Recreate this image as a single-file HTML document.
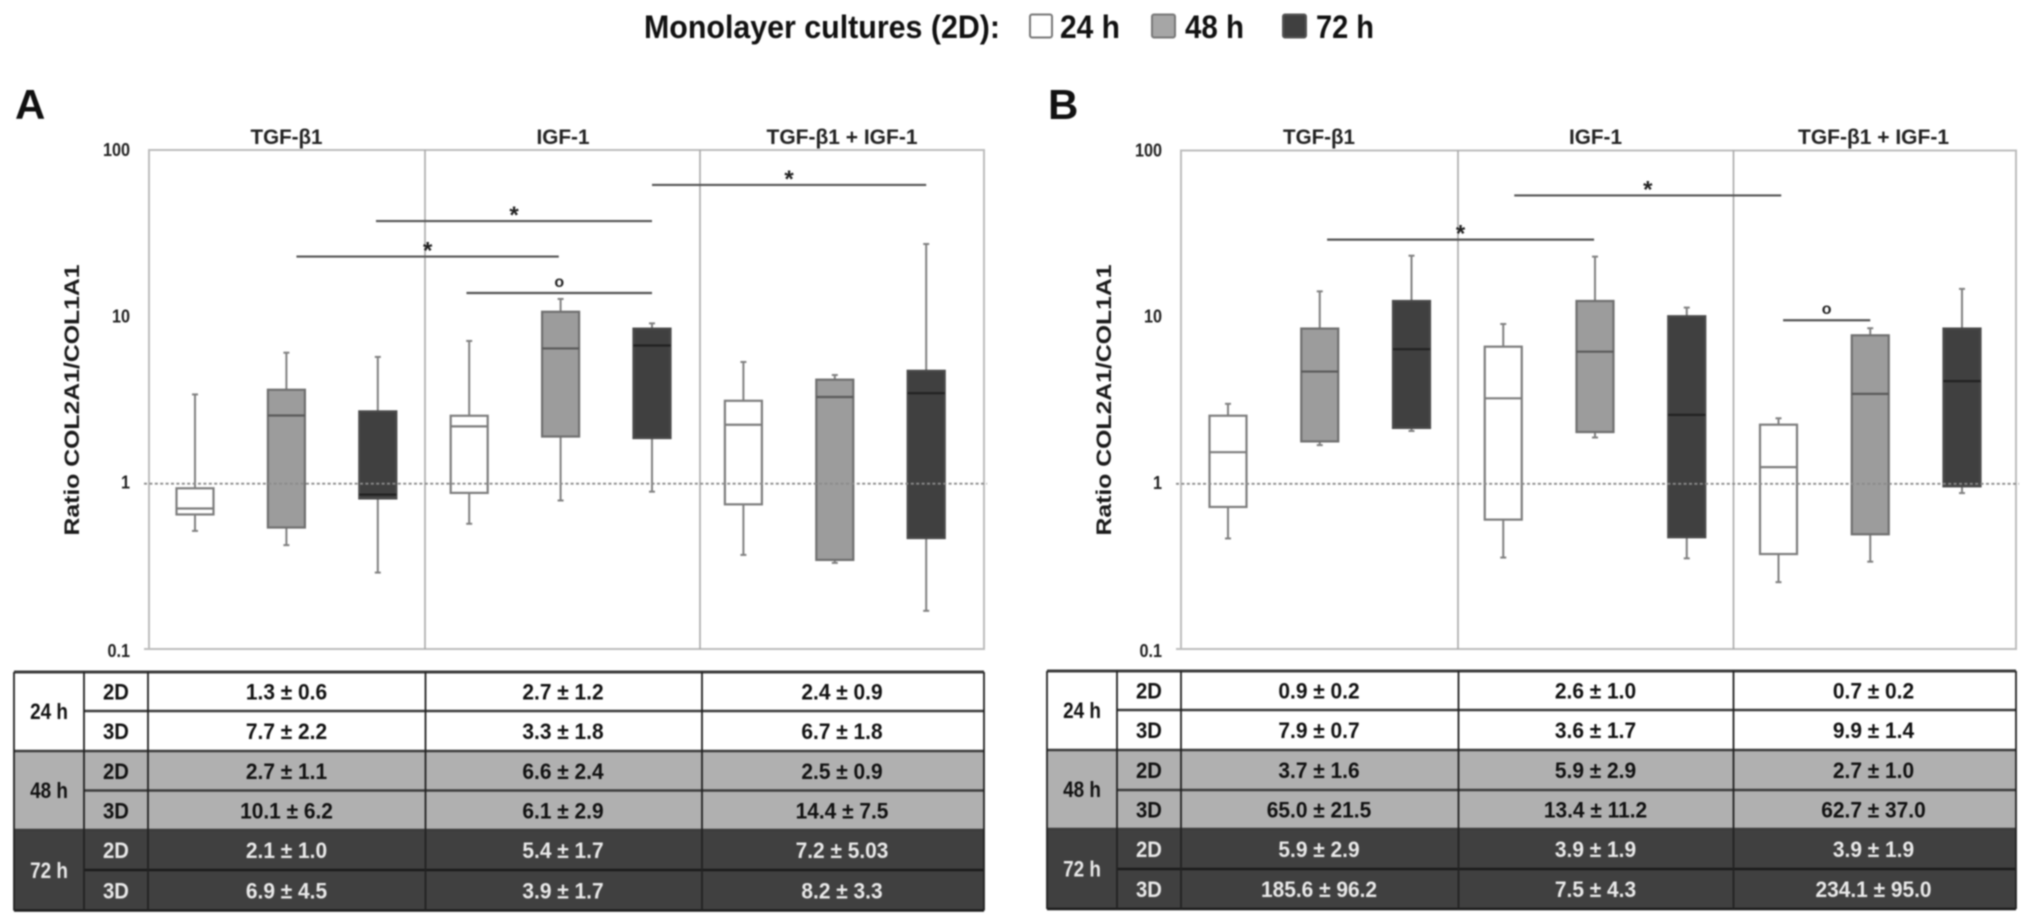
<!DOCTYPE html>
<html lang="en">
<head>
<meta charset="utf-8">
<title>COL2A1/COL1A1 ratio box plots</title>
<style>
html,body{margin:0;padding:0;background:#fff;width:2031px;height:924px;overflow:hidden}
svg{display:block;position:absolute;left:0;top:0;filter:blur(0.7px)}
text{font-family:"Liberation Sans",Arial,sans-serif}
</style>
</head>
<body>
<svg id="figure" xmlns="http://www.w3.org/2000/svg" width="2031" height="924" viewBox="0 0 2031 924">
  <g>
    <text x="644" y="38" font-size="32" font-weight="700" fill="#111" textLength="356" lengthAdjust="spacingAndGlyphs">Monolayer cultures (2D):</text>
    <rect x="1030" y="14.5" width="22" height="23" rx="2" fill="#fff" stroke="#777" stroke-width="2"/>
    <text x="1060" y="38" font-size="32" font-weight="700" fill="#111" textLength="60" lengthAdjust="spacingAndGlyphs">24 h</text>
    <rect x="1152" y="14.5" width="23" height="23" rx="2" fill="#a6a6a6" stroke="#777" stroke-width="2"/>
    <text x="1185" y="38" font-size="32" font-weight="700" fill="#111" textLength="59" lengthAdjust="spacingAndGlyphs">48 h</text>
    <rect x="1283" y="14.5" width="23" height="23" rx="2" fill="#404040" stroke="#555" stroke-width="2"/>
    <text x="1316" y="38" font-size="32" font-weight="700" fill="#111" textLength="58" lengthAdjust="spacingAndGlyphs">72 h</text>
  </g>
  <text x="15" y="119" font-size="42" font-weight="700" fill="#111">A</text>
  <text x="1048" y="119" font-size="42" font-weight="700" fill="#111">B</text>
</svg>
<script>
// ---------- shared categories ----------
const groups = ['TGF-β1', 'IGF-1', 'TGF-β1 + IGF-1'];
const timepoints = ['24 h', '48 h', '72 h'];
const cultures = ['2D', '3D'];
const yTickValues = [100, 10, 1, 0.1];
const yTickLabels = ['100', '10', '1', '0.1'];

// ---------- panel A box statistics (TGF 24/48/72, IGF 24/48/72, both 24/48/72) ----------
const aWhiskerHigh = [3.44, 6.13, 5.78, 7.21, 12.9, 9.2, 5.39, 4.5, 27.6];
const aQ3 = [0.938, 3.67, 2.72, 2.56, 10.8, 8.55, 3.15, 4.22, 4.77];
const aMedian = [0.709, 2.57, 0.859, 2.21, 6.5, 6.77, 2.26, 3.32, 3.5];
const aQ1 = [0.653, 0.545, 0.815, 0.88, 1.92, 1.88, 0.751, 0.348, 0.471];
const aWhiskerLow = [0.52, 0.427, 0.292, 0.574, 0.792, 0.895, 0.373, 0.334, 0.172];

// ---------- panel B box statistics ----------
const bWhiskerHigh = [3.03, 14.4, 23.6, 9.16, 23.3, 11.5, 2.48, 8.64, 14.9];
const bQ3 = [2.57, 8.6, 12.6, 6.69, 12.6, 10.2, 2.27, 7.83, 8.6];
const bMedian = [1.55, 4.74, 6.46, 3.27, 6.24, 2.6, 1.26, 3.48, 4.15];
const bQ1 = [0.726, 1.8, 2.17, 0.609, 2.05, 0.477, 0.378, 0.497, 0.966];
const bWhiskerLow = [0.469, 1.71, 2.08, 0.36, 1.9, 0.356, 0.256, 0.34, 0.88];

// ---------- significance brackets: from/to box index, level on the value axis, mark ----------
const aSigFrom = [5, 1.98, 1.11, 2.97];
const aSigTo = [8, 5, 3.98, 5];
const aSigLevel = [62.5, 37.9, 23.2, 14];
const aSigMark = ['*', '*', '*', 'o'];
const bSigFrom = [3.12, 1.08, 6.05];
const bSigTo = [6.03, 3.99, 7];
const bSigLevel = [54.4, 29.5, 9.65];
const bSigMark = ['*', '*', 'o'];

// ---------- table values (rows: 24h 2D, 24h 3D, 48h 2D, 48h 3D, 72h 2D, 72h 3D) ----------
const aTableTgf = ['1.3 ± 0.6', '7.7 ± 2.2', '2.7 ± 1.1', '10.1 ± 6.2', '2.1 ± 1.0', '6.9 ± 4.5'];
const aTableIgf = ['2.7 ± 1.2', '3.3 ± 1.8', '6.6 ± 2.4', '6.1 ± 2.9', '5.4 ± 1.7', '3.9 ± 1.7'];
const aTableBoth = ['2.4 ± 0.9', '6.7 ± 1.8', '2.5 ± 0.9', '14.4 ± 7.5', '7.2 ± 5.03', '8.2 ± 3.3'];
const bTableTgf = ['0.9 ± 0.2', '7.9 ± 0.7', '3.7 ± 1.6', '65.0 ± 21.5', '5.9 ± 2.9', '185.6 ± 96.2'];
const bTableIgf = ['2.6 ± 1.0', '3.6 ± 1.7', '5.9 ± 2.9', '13.4 ± 11.2', '3.9 ± 1.9', '7.5 ± 4.3'];
const bTableBoth = ['0.7 ± 0.2', '9.9 ± 1.4', '2.7 ± 1.0', '62.7 ± 37.0', '3.9 ± 1.9', '234.1 ± 95.0'];

const NS = 'http://www.w3.org/2000/svg';
const svg = document.getElementById('figure');
const boxFill = ['#ffffff', '#9c9c9c', '#404040'];
const boxStroke = ['#7d7d7d', '#6f6f6f', '#4a4a4a'];
const medianStroke = ['#7d7d7d', '#5a5a5a', '#222222'];
const rowFill = ['#ffffff', '#b0b0b0', '#404040'];
const rowText = ['#111111', '#111111', '#e9e9e9'];

function make(tag, parent, attrs, content) {
  const el = document.createElementNS(NS, tag);
  for (const k in attrs) el.setAttribute(k, attrs[k]);
  if (content !== undefined) el.textContent = content;
  parent.appendChild(el);
  return el;
}

// Narrow a label to imitate the condensed face of the original figure.
function squeeze(el, factor) {
  el.setAttribute('textLength', (el.getComputedTextLength() * factor).toFixed(2));
  el.setAttribute('lengthAdjust', 'spacingAndGlyphs');
}

function drawPanel(p) {
  const root = make('g', svg, {});
  
  

  const scaleTop = p.top + 1;
  const scaleBottom = p.bottom + 1;
  const yScale = v => scaleTop + (2 - Math.log10(v)) * (scaleBottom - scaleTop) / 3;
  const xScale = i => p.firstBox + i * p.step;
  const boxW = 37;

  // plot frame
  const frame = make('rect', root, {x: p.left, y: p.top, width: p.right - p.left, height: p.bottom - p.top, fill: '#fff', stroke: '#bdbdbd', 'stroke-width': 2});
  
  

  // group dividers and titles
  p.dividers.forEach((dx, i) => {
    const d = make('line', root, {x1: dx, x2: dx, y1: p.top, y2: p.bottom, stroke: '#a8a8a8', 'stroke-width': 1.6});
    
    
  });
  groups.forEach((g, i) => {
    const t = make('text', root, {x: p.titleX[i], y: 144, 'text-anchor': 'middle', 'font-size': 21, 'font-weight': 700, fill: '#222', textLength: p.titleW[i], lengthAdjust: 'spacingAndGlyphs'}, g);
    
    
  });

  // y axis
  yTickValues.forEach((v, i) => {
    const t = make('text', root, {x: p.left - 19, y: yScale(v) + (i === 3 ? 7 : 5), 'text-anchor': 'end', 'font-size': 18, 'font-weight': 700, fill: '#222'}, yTickLabels[i]);
    
    
    squeeze(t, 0.9);
  });
  const cy = 400;
  const title = make('text', root, {transform: 'translate(' + (p.left - 70) + ' ' + cy + ') rotate(-90)', 'text-anchor': 'middle', 'font-size': 21, 'font-weight': 700, fill: '#1a1a1a', textLength: 271, lengthAdjust: 'spacingAndGlyphs'}, 'Ratio COL2A1/COL1A1');
  
  

  // boxes
  p.median.forEach((m, i) => {
    const c = i % 3;
    const x = xScale(i);
    const g = make('g', root, {});
    
    
    const whisker = make('line', g, {x1: x, x2: x, y1: yScale(p.hi[i]), y2: yScale(p.lo[i]), stroke: '#808080', 'stroke-width': 2});
    
    
    [p.hi[i], p.lo[i]].forEach(v => {
      const cap = make('line', g, {x1: x - 3, x2: x + 3, y1: yScale(v), y2: yScale(v), stroke: '#808080', 'stroke-width': 2});
      
      
    });
    const box = make('rect', g, {x: x - boxW / 2, y: yScale(p.q3[i]), width: boxW, height: yScale(p.q1[i]) - yScale(p.q3[i]), fill: boxFill[c], stroke: boxStroke[c], 'stroke-width': 2.2});
    
    
    const med = make('line', g, {x1: x - boxW / 2, x2: x + boxW / 2, y1: yScale(m), y2: yScale(m), stroke: medianStroke[c], 'stroke-width': 2.2});
    
    
  });

  // reference line at ratio = 1
  const ref = make('line', root, {x1: p.left - 5, x2: p.right + 3, y1: yScale(1), y2: yScale(1), stroke: '#8a8a8a', 'stroke-width': 1.8, 'stroke-dasharray': '3 2.4'});
  
  
  const tick = make('line', root, {x1: p.left - 5, x2: p.left, y1: p.bottom, y2: p.bottom, stroke: '#bdbdbd', 'stroke-width': 2});
  
  

  // significance brackets
  p.sigFrom.forEach((f, i) => {
    const x1 = xScale(f), x2 = xScale(p.sigTo[i]), y = yScale(p.sigLevel[i]);
    const l = make('line', root, {x1: x1, x2: x2, y1: y, y2: y, stroke: '#555', 'stroke-width': 2.2});
    
    
    const isStar = p.sigMark[i] === '*';
    const t = make('text', root, {x: (x1 + x2) / 2, y: isStar ? y + 2 : y - 6, 'text-anchor': 'middle', 'font-size': isStar ? 24 : 16, 'font-weight': 700, fill: '#222'}, p.sigMark[i]);
    
    
  });

  // table
  const tb = make('g', root, {});
  
  
  const tx = p.tableX, ty = p.tableY;
  timepoints.forEach((tp, i) => {
    const y0 = ty[i * 2], y1 = ty[i * 2 + 2];
    const bg = make('rect', tb, {x: tx[0], y: y0, width: tx[5] - tx[0], height: y1 - y0, fill: rowFill[i]});
    
    
    const lab = make('text', tb, {x: (tx[0] + tx[1]) / 2, y: (y0 + y1) / 2 + 7.5, 'text-anchor': 'middle', 'font-size': 22, 'font-weight': 700, fill: rowText[i]}, tp);
    
    
    squeeze(lab, 0.86);
  });
  const cols = [p.tableTgf, p.tableIgf, p.tableBoth];
  cultures.concat(cultures, cultures).forEach((cu, r) => {
    const band = Math.floor(r / 2);
    const mid = (ty[r] + ty[r + 1]) / 2 + 8;
    const cl = make('text', tb, {x: (tx[1] + tx[2]) / 2, y: mid, 'text-anchor': 'middle', 'font-size': 22, 'font-weight': 700, fill: rowText[band]}, cu);
    
    
    squeeze(cl, 0.92);
    cols.forEach((col, c) => {
      const v = make('text', tb, {x: p.titleX[c], y: mid, 'text-anchor': 'middle', 'font-size': 22, 'font-weight': 700, fill: rowText[band]}, col[r]);
      
      
      squeeze(v, 0.95);
    });
  });
  ty.forEach((y, i) => {
    const dark = i >= 5;
    const l = make('line', tb, {x1: (i % 2 === 1) ? tx[1] : tx[0], x2: tx[5], y1: y, y2: y, stroke: dark ? '#1c1c1c' : '#3c3c3c', 'stroke-width': (i === 0) ? 3 : 2.4});
    
    
  });
  tx.forEach(x => {
    const l = make('line', tb, {x1: x, x2: x, y1: ty[0], y2: ty[6], stroke: '#222', 'stroke-width': 1.8});
    
    
  });
}

drawPanel({
  id: 'panel-a', left: 149, right: 984, top: 150, bottom: 649,
  firstBox: 195, step: 91.4, dividers: [425, 700],
  titleX: [286.5, 563, 842], titleW: [72, 53, 151],
  hi: aWhiskerHigh, q3: aQ3, median: aMedian, q1: aQ1, lo: aWhiskerLow,
  sigFrom: aSigFrom, sigTo: aSigTo, sigLevel: aSigLevel, sigMark: aSigMark,
  tableX: [14, 84, 148, 425.5, 702, 984], tableY: [672, 711, 751, 790.5, 830, 870, 910.5],
  tableTgf: aTableTgf, tableIgf: aTableIgf, tableBoth: aTableBoth
});
drawPanel({
  id: 'panel-b', left: 1181, right: 2016, top: 150.5, bottom: 649,
  firstBox: 1228, step: 91.75, dividers: [1458, 1733.5],
  titleX: [1319, 1595.5, 1873.5], titleW: [72, 53, 151],
  hi: bWhiskerHigh, q3: bQ3, median: bMedian, q1: bQ1, lo: bWhiskerLow,
  sigFrom: bSigFrom, sigTo: bSigTo, sigLevel: bSigLevel, sigMark: bSigMark,
  tableX: [1047, 1117, 1181, 1458.5, 1733.5, 2016], tableY: [671, 710, 750, 790, 829, 869, 909],
  tableTgf: bTableTgf, tableIgf: bTableIgf, tableBoth: bTableBoth
});
</script>
</body>
</html>
